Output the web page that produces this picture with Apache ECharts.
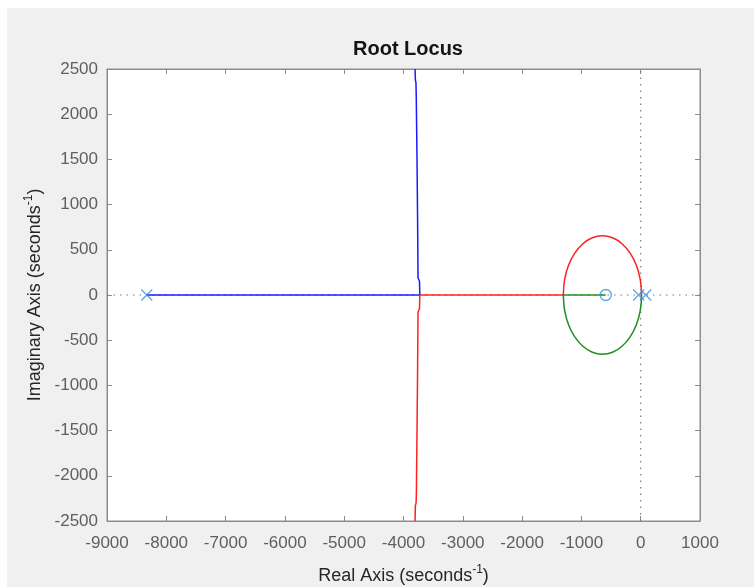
<!DOCTYPE html>
<html>
<head>
<meta charset="utf-8">
<script src="https://cdn.jsdelivr.net/npm/echarts@6/dist/echarts.min.js"></script>
<style>
html,body{margin:0;padding:0;background:#fff;}
#c{width:754px;height:587px;}
</style>
</head>
<body>
<div id="c"></div>
<script>
// Tick values
const xTicks = [-9000,-8000,-7000,-6000,-5000,-4000,-3000,-2000,-1000,0,1000];
const yTicks = [-2500,-2000,-1500,-1000,-500,0,500,1000,1500,2000,2500];

// Branch 1 (blue): far pole along real axis to breakaway, then up
const blueBranch = [[-8330,0],[-3725,0],[-3730,150],[-3755,190],[-3762,800],[-3772,1500],[-3785,2200],[-3790,2350],[-3800,2380],[-3805,2500]];
// Branch 2 (red): circle top arc, real axis left to breakaway, then down
const redArc = [[15,0],[-7,170],[-73,328],[-178,463],[-315,567],[-474,633],[-645,655],[-816,633],[-975,567],[-1112,463],[-1217,328],[-1283,170],[-1305,0]];
const redAxis = [[-1305,0],[-3725,0],[-3730,-150],[-3755,-190],[-3762,-800],[-3772,-1500],[-3783,-2200],[-3788,-2300],[-3800,-2330],[-3805,-2500]];
// Branch 3 (green): circle bottom arc, then to zero
const greenArc = [[15,0],[-7,-170],[-73,-328],[-178,-463],[-315,-567],[-474,-633],[-645,-655],[-816,-633],[-975,-567],[-1112,-463],[-1217,-328],[-1283,-170],[-1305,0]];
const greenAxis = [[-1305,0],[-590,0]];
// Poles and zeros
const poles = [[-8330,0],[-35,0],[85,0]];
const zeros = [[-590,0]];

const FONT = 'Liberation Sans, Arial, sans-serif';
const chart = echarts.init(document.getElementById('c'));
const tickFont = {color:'#5f5f5f', fontSize:17, fontFamily:FONT, formatter:(v)=>String(v)};
const crossPath = 'path://M0,0L10,10M10,0L0,10';
const lineBase = {type:'line', showSymbol:false, symbol:'none', smooth:false, animation:false};
const nameRich = {
  a:{fontSize:18, color:'#262626', fontFamily:FONT, verticalAlign:'bottom'},
  s:{fontSize:12, color:'#262626', fontFamily:FONT, verticalAlign:'bottom', padding:[0,0,9,0]}
};

chart.setOption({
  animation:false,
  backgroundColor:'#ffffff',
  graphic:[{type:'rect', shape:{x:7,y:8,width:760,height:590}, style:{fill:'#f0f0f0'}, z:-10, silent:true}],
  title:{text:'Root Locus', left:403, textAlign:'center', top:34,
    textStyle:{fontSize:20, fontWeight:'bold', color:'#141414', fontFamily:FONT}},
  grid:{left:107, right:54, top:69, bottom:66, containLabel:false, outerBoundsMode:'none',
    show:true, backgroundColor:'#ffffff', borderColor:'#8c8c8c', borderWidth:1},
  xAxis:[{
    type:'value', min:-9000, max:1000, interval:1000, position:'bottom',
    axisLine:{show:true, onZero:false, lineStyle:{color:'#8c8c8c'}},
    axisTick:{show:true, inside:true, length:5, lineStyle:{color:'#8c8c8c'}},
    axisLabel:Object.assign({margin:14}, tickFont),
    splitLine:{show:false},
    name:'{a|Real Axis (seconds}{s|-1}{a|)}', nameLocation:'middle', nameGap:43,
    nameTextStyle:{rich:nameRich}
  },{
    type:'value', min:-9000, max:1000, interval:1000, position:'top',
    axisLine:{show:true, onZero:false, lineStyle:{color:'#8c8c8c'}},
    axisTick:{show:true, inside:true, length:5, lineStyle:{color:'#8c8c8c'}},
    axisLabel:{show:false}, splitLine:{show:false}
  }],
  yAxis:[{
    type:'value', min:-2500, max:2500, interval:500, position:'left',
    axisLine:{show:true, onZero:false, lineStyle:{color:'#8c8c8c'}},
    axisTick:{show:true, inside:true, length:5, lineStyle:{color:'#8c8c8c'}},
    axisLabel:Object.assign({margin:9}, tickFont),
    splitLine:{show:false},
    name:'{a|Imaginary Axis (seconds}{s|-1}{a|)}', nameLocation:'middle', nameGap:62, nameRotate:90,
    nameTextStyle:{rich:nameRich}
  },{
    type:'value', min:-2500, max:2500, interval:500, position:'right',
    axisLine:{show:true, onZero:false, lineStyle:{color:'#8c8c8c'}},
    axisTick:{show:true, inside:true, length:5, lineStyle:{color:'#8c8c8c'}},
    axisLabel:{show:false}, splitLine:{show:false}
  }],
  series:[
    Object.assign({}, lineBase, {name:'zeroX', data:[[-9000,0],[1000,0]], lineStyle:{color:'#7a7a7a', width:1.2, type:[1.5,5]}, z:1}),
    Object.assign({}, lineBase, {name:'zeroY', data:[[0,-2500],[0,2500]], lineStyle:{color:'#7a7a7a', width:1.2, type:[1.5,5]}, z:1}),
    Object.assign({}, lineBase, {name:'b1', data:blueBranch, lineStyle:{color:'#1a1aff', width:1.5}, z:3}),
    Object.assign({}, lineBase, {name:'r1', data:redArc, smooth:0.4, lineStyle:{color:'#ff2020', width:1.5}, z:3}),
    Object.assign({}, lineBase, {name:'r2', data:redAxis, lineStyle:{color:'#ff2020', width:1.5}, z:3}),
    Object.assign({}, lineBase, {name:'g1', data:greenArc, smooth:0.4, lineStyle:{color:'#1f8f1f', width:1.5}, z:3}),
    Object.assign({}, lineBase, {name:'g2', data:greenAxis, lineStyle:{color:'#1f8f1f', width:1.5}, z:3}),
    {type:'scatter', name:'poles', data:poles, symbol:crossPath, symbolSize:11, z:5,
      itemStyle:{color:'rgba(0,0,0,0)', borderColor:'#3a8fd8', borderWidth:1.3}},
    {type:'scatter', name:'zeros', data:zeros, symbol:'circle', symbolSize:11, z:5,
      itemStyle:{color:'rgba(0,0,0,0)', borderColor:'#3a8fd8', borderWidth:1.4}}
  ]
});
</script>
</body>
</html>
